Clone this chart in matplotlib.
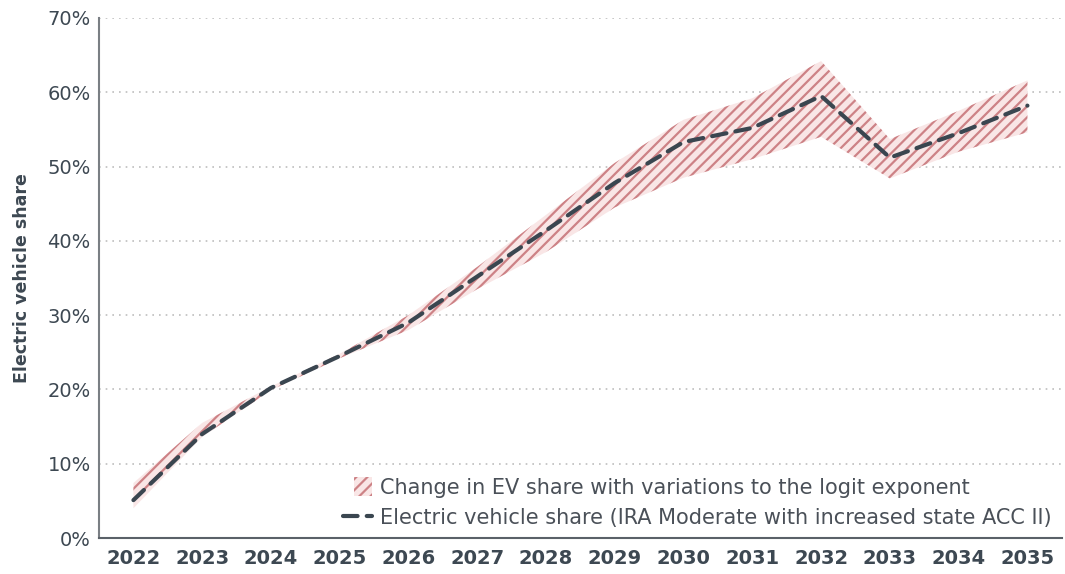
import matplotlib.pyplot as plt
from matplotlib.ticker import FuncFormatter
from matplotlib.legend_handler import HandlerPatch
from matplotlib.patches import Rectangle

# Values (percent)
years = [2022, 2023, 2024, 2025, 2026, 2027, 2028, 2029, 2030, 2031, 2032, 2033, 2034, 2035]
ev_share = [5.1, 14.0, 20.2, 24.5, 29.0, 35.2, 41.4, 47.8, 53.3, 55.2, 59.5, 51.2, 54.5, 58.2]
band_upper = [7.4, 15.5, 20.4, 24.8, 30.0, 36.5, 43.5, 50.5, 56.3, 59.2, 64.2, 53.7, 57.5, 61.6]
band_lower = [4.0, 13.6, 19.9, 24.2, 28.0, 33.5, 38.5, 44.5, 48.5, 51.0, 54.0, 48.4, 52.0, 54.6]

text_color = '#3d4852'
plt.rcParams['font.family'] = ['DejaVu Sans']
plt.rcParams['hatch.linewidth'] = 1.6
plt.rcParams['hatch.color'] = '#cd8286'


# small square swatch, right-aligned in the handle box
def square_patch(legend, orig_handle, xdescent, ydescent, width, height, fontsize):
    side = height * 1.3
    return Rectangle((width - side - xdescent, -ydescent - (side - height) / 2), side, side)


fig = plt.figure(figsize=(10.65, 5.74), dpi=100)
ax = fig.add_axes([0.093, 0.0627, 0.904, 0.906])

ax.fill_between(years, band_lower, band_upper, facecolor='#f9e6e6', edgecolor='#cd8286',
                hatch='///', linewidth=0)
line, = ax.plot(years, ev_share, color='#3a4650', lw=3, dashes=(3.5, 2.2), dash_capstyle='round',
                label='Electric vehicle share (IRA Moderate with increased state ACC II)')
band_proxy = Rectangle((0, 0), 1, 1, facecolor='#f9e6e6', edgecolor='#cd8286', hatch='///',
                       linewidth=0, label='Change in EV share with variations to the logit exponent')

ax.set_xlim(2021.5, 2035.5)
ax.set_ylim(0, 70)
ax.set_xticks(years)
ax.set_yticks(range(0, 71, 10))
ax.yaxis.set_major_formatter(FuncFormatter(lambda v, p: f'{v:.0f}%'))
ax.tick_params(axis='both', length=0, colors=text_color)
ax.tick_params(axis='y', labelsize=14, pad=6)
ax.tick_params(axis='x', labelsize=14, pad=8)
for lbl in ax.get_xticklabels():
    lbl.set_fontweight('bold')

ax.grid(axis='y', color='#bdbdbd', linestyle=(0, (1, 3)), linewidth=1.2)
ax.set_axisbelow(True)
for s in ['top', 'right']:
    ax.spines[s].set_visible(False)
ax.spines['left'].set_color('#7a7f84')
ax.spines['bottom'].set_color('#5a6168')
ax.spines['left'].set_linewidth(1.5)
ax.spines['bottom'].set_linewidth(1.5)

ax.set_ylabel('Electric vehicle share', fontsize=12.5, fontweight='bold', color=text_color, labelpad=12)

leg = ax.legend(handles=[band_proxy, line], loc='lower right', frameon=False, fontsize=15,
                handlelength=1.4, handletextpad=0.35, labelspacing=0.45, borderaxespad=0.1,
                labelcolor='#4a5058',
                handler_map={band_proxy: HandlerPatch(patch_func=square_patch)})

fig.savefig('out.png', dpi=100)
